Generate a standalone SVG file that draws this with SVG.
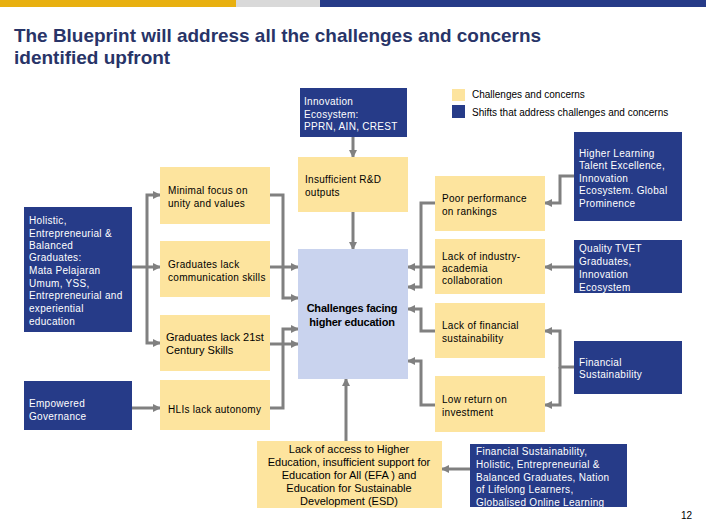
<svg xmlns="http://www.w3.org/2000/svg" width="706" height="529" viewBox="0 0 706 529">
<style>
text{font-family:"Liberation Sans",Arial,sans-serif;}
.y{fill:#fde49e;}
.n{fill:#263b88;}
.c{fill:#c9d3ee;}
.t{font-size:10px;letter-spacing:0.3px;fill:#000;}
.lg{font-size:10px;letter-spacing:0;fill:#000;}
.w{font-size:10px;letter-spacing:0.3px;fill:#fff;}
.t11{font-size:11px;fill:#000;}
.b{font-size:11px;font-weight:bold;fill:#000;text-anchor:middle;letter-spacing:-0.2px;}
.con path{fill:none;stroke:#808080;stroke-width:3;marker-end:url(#ah);}
</style>
<defs>
<marker id="ah" viewBox="0 0 8 8" refX="7" refY="4" markerWidth="8" markerHeight="8" markerUnits="userSpaceOnUse" orient="auto">
<path d="M0,0 L8,4 L0,8 z" fill="#808080"/>
</marker>
</defs>
<rect width="706" height="529" fill="#fff"/>
<g id="topbar">
<rect x="0" y="0" width="236" height="7" fill="#e8b010"/>
<rect x="236" y="0" width="84" height="7" fill="#d9d9d9"/>
<rect x="320" y="0" width="386" height="7" fill="#263b88"/>
</g>
<g id="title">
<text x="14" y="42" font-size="19" font-weight="bold" fill="#283468" textLength="527" lengthAdjust="spacingAndGlyphs">The Blueprint will address all the challenges and concerns</text>
<text x="14" y="64" font-size="19" font-weight="bold" fill="#283468">identified upfront</text>
</g>
<g id="legend">
<rect class="y" x="452" y="89" width="13" height="12"/>
<rect class="n" x="452" y="105" width="13" height="13"/>
<text class="lg" x="472" y="98">Challenges and concerns</text>
<text class="lg" x="472" y="116">Shifts that address challenges and concerns</text>
</g>
<g class="con" id="connectors">
<path d="M353,137 V157"/>
<path d="M353,212 V249"/>
<path d="M270,195 H283 V298 H298"/>
<path d="M270,267 H298"/>
<path d="M270,344 H298"/>
<path d="M270,408 H283 V329 H298"/>
<path d="M132,267 H160"/>
<path d="M147,267 V195 H160"/>
<path d="M147,267 V343 H160"/>
<path d="M132,408 H160"/>
<path d="M435,203 H421 V287 H408"/>
<path d="M435,267 H408"/>
<path d="M435,331 H421 V309 H408"/>
<path d="M435,405 H421 V361 H408"/>
<path d="M574,176 H560 V203 H545"/>
<path d="M574,267 H545"/>
<path d="M574,367 H560 V331 H545"/>
<path d="M560,367 V405 H545"/>
<path d="M346,441 V379"/>
<path d="M470,469 H442"/>
</g>
<g id="innovation">
<rect class="n" x="300" y="88" width="107" height="49"/>
<text class="w" x="304" y="105">Innovation</text>
<text class="w" x="304" y="118">Ecosystem:</text>
<text class="w" x="304" y="130">PPRN, AIN, CREST</text>
</g>
<g id="higher-learning">
<rect class="n" x="574" y="132" width="108" height="89"/>
<text class="w" x="579" y="157">Higher Learning</text>
<text class="w" x="579" y="169">Talent Excellence,</text>
<text class="w" x="579" y="182">Innovation</text>
<text class="w" x="579" y="194">Ecosystem. Global</text>
<text class="w" x="579" y="207">Prominence</text>
</g>
<g id="insufficient-rd">
<rect class="y" x="298" y="157" width="110" height="55"/>
<text class="t" x="305" y="183">Insufficient R&amp;D</text>
<text class="t" x="305" y="196">outputs</text>
</g>
<g id="minimal-focus">
<rect class="y" x="160" y="167" width="110" height="57"/>
<text class="t" x="168" y="194">Minimal focus on</text>
<text class="t" x="168" y="207">unity and values</text>
</g>
<g id="holistic">
<rect class="n" x="24" y="207" width="108" height="125"/>
<text class="w" x="29" y="224">Holistic,</text>
<text class="w" x="29" y="237">Entrepreneurial &amp;</text>
<text class="w" x="29" y="249">Balanced</text>
<text class="w" x="29" y="261">Graduates:</text>
<text class="w" x="29" y="274">Mata Pelajaran</text>
<text class="w" x="29" y="287">Umum, YSS,</text>
<text class="w" x="29" y="299">Entrepreneurial and</text>
<text class="w" x="29" y="312">experiential</text>
<text class="w" x="29" y="325">education</text>
</g>
<g id="communication">
<rect class="y" x="160" y="241" width="110" height="56"/>
<text class="t" x="168" y="268">Graduates lack</text>
<text class="t" x="168" y="281">communication skills</text>
</g>
<g id="central">
<rect class="c" x="298" y="249" width="110" height="130"/>
<text class="b" x="352" y="312">Challenges facing</text>
<text class="b" x="352" y="326">higher education</text>
</g>
<g id="poor-performance">
<rect class="y" x="435" y="176" width="110" height="55"/>
<text class="t" x="442" y="202">Poor performance</text>
<text class="t" x="442" y="215">on rankings</text>
</g>
<g id="industry">
<rect class="y" x="435" y="239" width="110" height="55"/>
<text class="t" x="442" y="260">Lack of industry-</text>
<text class="t" x="442" y="272">academia</text>
<text class="t" x="442" y="284">collaboration</text>
</g>
<g id="tvet">
<rect class="n" x="574" y="240" width="108" height="53"/>
<text class="w" x="579" y="252">Quality TVET</text>
<text class="w" x="579" y="265">Graduates,</text>
<text class="w" x="579" y="278">Innovation</text>
<text class="w" x="579" y="291">Ecosystem</text>
</g>
<g id="lack-financial">
<rect class="y" x="435" y="303" width="110" height="55"/>
<text class="t" x="442" y="329">Lack of financial</text>
<text class="t" x="442" y="342">sustainability</text>
</g>
<g id="century-skills">
<rect class="y" x="160" y="315" width="110" height="56"/>
<text class="t11" x="166" y="341">Graduates lack 21st</text>
<text class="t11" x="166" y="354">Century Skills</text>
</g>
<g id="financial-sustainability">
<rect class="n" x="574" y="341" width="108" height="53"/>
<text class="w" x="579" y="366">Financial</text>
<text class="w" x="579" y="378">Sustainability</text>
</g>
<g id="empowered">
<rect class="n" x="24" y="381" width="108" height="49"/>
<text class="w" x="29" y="407">Empowered</text>
<text class="w" x="29" y="420">Governance</text>
</g>
<g id="autonomy">
<rect class="y" x="160" y="380" width="110" height="50"/>
<text class="t" x="168" y="413">HLIs lack autonomy</text>
</g>
<g id="low-return">
<rect class="y" x="435" y="376" width="110" height="56"/>
<text class="t" x="442" y="403">Low return on</text>
<text class="t" x="442" y="416">investment</text>
</g>
<g id="access">
<rect class="y" x="257" y="441" width="185" height="67"/>
<g class="t11" text-anchor="middle">
<text x="349" y="453">Lack of access to Higher</text>
<text x="349" y="466">Education, insufficient support for</text>
<text x="349" y="479">Education for All (EFA ) and</text>
<text x="349" y="492">Education for Sustainable</text>
<text x="349" y="505">Development (ESD)</text>
</g>
</g>
<g id="bottom-shifts">
<rect class="n" x="470" y="444" width="157" height="63"/>
<text class="w" x="476" y="455">Financial Sustainability,</text>
<text class="w" x="476" y="468">Holistic, Entrepreneurial &amp;</text>
<text class="w" x="476" y="481">Balanced Graduates, Nation</text>
<text class="w" x="476" y="493">of Lifelong Learners,</text>
<text class="w" x="476" y="506">Globalised Online Learning</text>
</g>
<text x="681" y="519" font-size="10" fill="#000">12</text>
</svg>
